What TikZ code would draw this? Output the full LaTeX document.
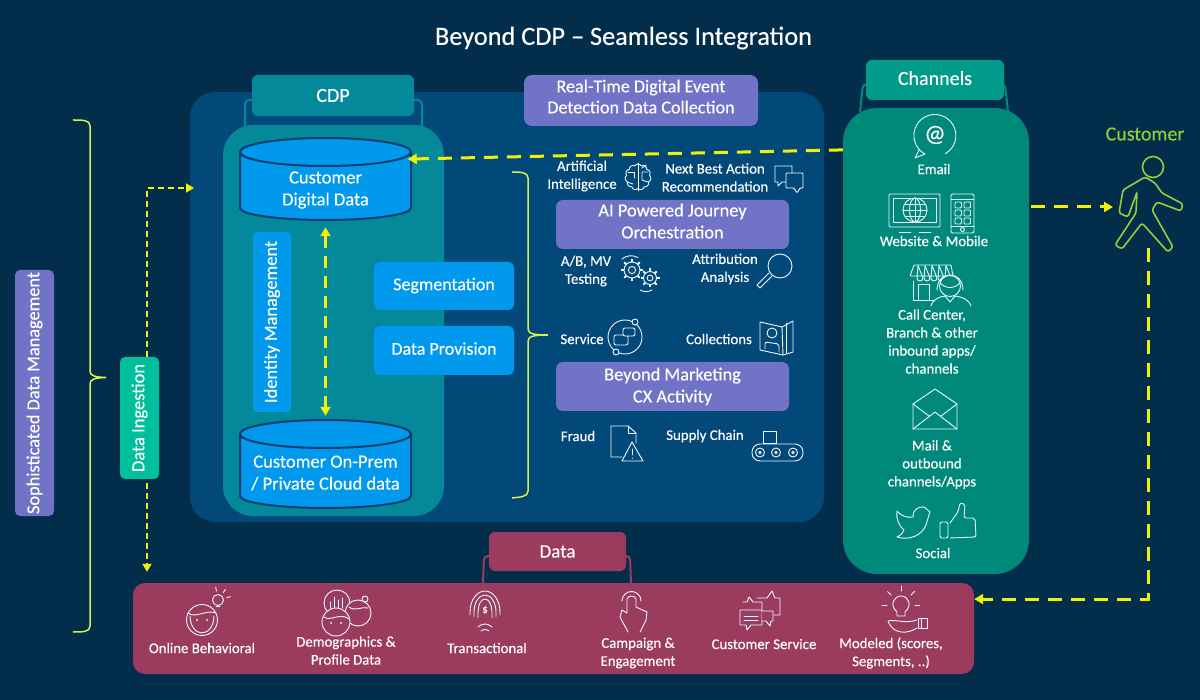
\documentclass[tikz,border=0pt]{standalone}
\usepackage{fontspec}
\setmainfont{Carlito}[FakeBold=0.25]
\usetikzlibrary{arrows.meta,shapes.symbols}

\definecolor{bgnavy}{RGB}{3,46,75}
\definecolor{panelblue}{RGB}{2,73,122}
\definecolor{cdpteal}{RGB}{3,137,154}
\definecolor{skyblue}{RGB}{0,153,238}
\definecolor{cylline}{RGB}{3,62,110}
\definecolor{lavender}{RGB}{113,116,198}
\definecolor{chanteal}{RGB}{0,137,123}
\definecolor{chantab}{RGB}{0,155,138}
\definecolor{ingestgreen}{RGB}{0,191,156}
\definecolor{maroon}{RGB}{155,60,94}
\definecolor{dashyellow}{RGB}{240,240,10}
\definecolor{bracegreen}{RGB}{215,240,80}
\definecolor{walkergreen}{RGB}{150,204,60}

\newcommand{\fs}[2]{\fontsize{#1}{#2}\selectfont}
% lifts the text of a box by half of the given depth
\newcommand{\lift}[1]{\rule[-#1]{0pt}{0pt}}

\tikzset{
    box/.style={rounded corners=6pt, align=center, text=white, inner sep=0pt},
    lbl/.style={align=center, text=white, inner sep=0pt, font=\fs{14.8}{18}},
    icon/.style={draw=white!92!cyan, line width=0.9pt, line join=round, line cap=round},
    flow/.style={draw=dashyellow, line width=3pt, dash pattern=on 14pt off 9pt, -{Triangle[length=9pt,width=10pt]}},
    thinflow/.style={draw=dashyellow, line width=1.6pt, dash pattern=on 6pt off 4pt, -{Triangle[length=8pt,width=9pt]}},
    brace/.style={draw=bracegreen, line width=1.5pt},
    handle/.style={line width=2pt, rounded corners=4pt},
}

% gear with teeth: x, y, radius
\newcommand{\gearicon}[3]{
    \draw[icon] (#1,#2) circle (#3);
    \draw[icon] (#1,#2) circle (#3*0.45);
    \foreach \a in {0,45,...,315}
        \draw[icon,line width=2pt,line cap=butt] ({#1+#3*cos(\a)},{#2+#3*sin(\a)}) -- ({#1+(#3+3)*cos(\a)},{#2+(#3+3)*sin(\a)});
}

% database drum: x, y of the top ellipse, y of the bottom side
\newcommand{\drum}[3]{
    \fill[skyblue] (#1-85.5,#2) -- (#1-85.5,#3) arc[start angle=180,end angle=0,x radius=85.5,y radius=12] -- (#1+85.5,#2) -- cycle;
    \draw[cylline,line width=2pt] (#1-85.5,#2) -- (#1-85.5,#3) arc[start angle=180,end angle=0,x radius=85.5,y radius=12] -- (#1+85.5,#2);
    \draw[cylline,line width=2pt,fill=skyblue] (#1,#2) ellipse (85.5 and 14);
}

\begin{document}
\begin{tikzpicture}[x=1pt,y=-1pt]
    \useasboundingbox (0,0) rectangle (1200,700);
    \fill[bgnavy] (0,0) rectangle (1200,700);

    \node[font=\fs{26.3}{30}, text=white, inner sep=0pt] (title) at (623.5,38) {Beyond CDP -- Seamless Integration};

    % big blue panel
    \node[fill=panelblue, rounded corners=25pt, minimum width=634pt, minimum height=430pt, inner sep=0pt] (panel) at (507,307) {};

    % CDP
    \draw[handle,draw=cdpteal] (245,126) -- (245,100) -- (254,100);
    \draw[handle,draw=cdpteal] (422,126) -- (422,100) -- (412,100);
    \node[box, fill=cdpteal, minimum width=162pt, minimum height=41pt, font=\fs{20}{22}] (cdptab) at (333,95.5) {CDP};
    \node[fill=cdpteal, rounded corners=30pt, minimum width=221pt, minimum height=391pt, inner sep=0pt] (cdp) at (333.5,320.5) {};

    \drum{325.5}{152}{208}
    \drum{325.5}{434}{496}
    \node[box, minimum width=170pt, minimum height=68pt, font=\fs{18.5}{22}] (digital) at (325.5,190) {Customer\\Digital Data};
    \node[box, minimum width=170pt, minimum height=70pt, font=\fs{18.5}{22}] (onprem) at (325.5,473) {Customer On-Prem\\/ Private Cloud data};

    \node[box, fill=skyblue, rounded corners=4pt, rotate=90, minimum width=180pt, minimum height=38pt, font=\fs{18.4}{20}] (identity) at (272,322) {Identity Management};
    \node[box, fill=skyblue, minimum width=140pt, minimum height=48pt, font=\fs{18}{20}] (segment) at (444,286) {Segmentation\lift{4pt}};
    \node[box, fill=skyblue, minimum width=140pt, minimum height=49pt, font=\fs{18}{20}] (provision) at (444,350.5) {Data Provision\lift{4pt}};

    \node[box, fill=lavender, rounded corners=8pt, minimum width=234pt, minimum height=51pt, font=\fs{18.1}{21}] (realtime) at (641,100.5) {Real-Time Digital Event\\Detection Data Collection\lift{8pt}};

    % left brace and the one inside the panel
    \draw[brace] (73,120) .. controls (83,120) and (90,120) .. (90,126) -- (90,371) .. controls (90,376) and (95,377) .. (106,377.5) .. controls (95,378) and (90,379) .. (90,384) -- (90,626) .. controls (90,632) and (83,632) .. (73,632);
    \draw[brace] (512,172) .. controls (520,172) and (528,172) .. (528,178) -- (528,329) .. controls (528,334) and (535,335) .. (548,335) .. controls (535,335) and (528,336) .. (528,341) -- (528,491) .. controls (528,497) and (520,497) .. (512,498);

    % journey block
    \node[lbl] (artificial) at (582,176) {Artificial\\Intelligence};
    \node[lbl] (nextbest) at (715,177.5) {Next Best Action\\Recommendation};
    \node[box, fill=lavender, rounded corners=7pt, minimum width=233pt, minimum height=49pt, font=\fs{18.4}{22}] (journey) at (672.5,224.5) {AI Powered Journey\\Orchestration\lift{7pt}};
    \node[lbl] (abtest) at (586,271) {A/B, MV\\Testing};
    \node[lbl] (attrib) at (725,269) {Attribution\\Analysis};

    \node[lbl] (service) at (582,339) {Service};
    \node[lbl] (collect) at (719,339) {Collections};
    \node[box, fill=lavender, rounded corners=7pt, minimum width=233pt, minimum height=49pt, font=\fs{18.4}{22}] (beyond) at (672.5,386.5) {Beyond Marketing\\CX Activity};
    \node[lbl] (fraud) at (578,436) {Fraud};
    \node[lbl] (supply) at (705,436) {Supply Chain};

    % brain
    \node[cloud, cloud puffs=11, cloud puff arc=120, aspect=1, icon, minimum width=26pt, minimum height=26pt, inner sep=0pt] (brain) at (638,177) {};
    \draw[icon] (638,163) -- (638,191);
    \draw[icon] (628,172) -- (634,172) -- (634,178);
    \draw[icon] (627,182) -- (633,184);
    \draw[icon] (648,172) -- (642,172) -- (642,180) -- (648,182);
    \draw[icon] (642,168) -- (646,165);

    % speech bubbles
    \draw[icon] (786,182) -- (782,182) -- (778,186) -- (778,182) -- (775,182) -- (775,166) -- (792,166) -- (792,173);
    \draw[icon,rounded corners=1pt] (786,173) -- (803,173) -- (803,188) -- (800,188) -- (797,193) -- (794,188) -- (786,188) -- cycle;

    % gears
    \gearicon{632}{270}{8}
    \gearicon{650}{278}{6.5}
    \draw[icon] (622,259) arc[start angle=230,end angle=300,radius=14];
    \draw[icon] (640,290) arc[start angle=120,end angle=60,radius=12];

    % magnifier
    \draw[icon] (780,266) circle (12);
    \draw[icon] (769,273) -- (757,285) -- (760,288) -- (772,276);

    % service loop
    \draw[icon] (625,337) circle (17);
    \draw[icon,fill=panelblue,rounded corners=2pt] (614,335) rectangle (628,345);
    \draw[icon,fill=panelblue,rounded corners=2pt] (623,328) rectangle (635,336);
    \draw[icon,fill=panelblue] (635,322) circle (3);
    \draw[icon,fill=panelblue] (616,352) circle (3);

    % booklet
    \draw[icon] (760,322) -- (782,327) -- (783,355) -- (760,350) -- cycle;
    \draw[icon] (782,327) -- (793,321) -- (793,352) -- (783,355);
    \draw[icon] (786,323) -- (786,353);
    \draw[icon] (772,333) circle (5);
    \draw[icon,rounded corners=2pt] (765,349) -- (765,342) -- (779,344) -- (779,352);

    % fraud document
    \draw[icon] (622,457) -- (611,457) -- (611,426) -- (628,426) -- (636,433) -- (636,443);
    \draw[icon] (628,426) -- (628,433) -- (636,433);
    \draw[icon] (632,442) -- (622,461) -- (643,461) -- cycle;
    \draw[icon] (632,449) -- (632,455);
    \draw[icon] (632,458) -- (632,458.5);

    % conveyor
    \draw[icon] (763,431) rectangle (776,443);
    \draw[icon,rounded corners=8pt] (752,444) rectangle (803,461);
    \foreach \x in {760,776,793} {
        \draw[icon] (\x,452.5) circle (4.5);
        \draw[icon] (\x,452.5) circle (1.2);
    }

    % channels
    \draw[handle,draw=chanteal] (860,112) -- (863,84) -- (870,84);
    \draw[handle,draw=chanteal] (1008,112) -- (1005,84) -- (998,84);
    \node[box, fill=chantab, minimum width=138pt, minimum height=40pt, font=\fs{20}{22}] (chantab) at (935,80) {Channels\lift{4pt}};
    \node[fill=chanteal, rounded corners=34pt, minimum width=186pt, minimum height=466pt, inner sep=0pt] (channels) at (936,341) {};

    \node[lbl] (email) at (934,169) {Email};
    \node[lbl] (website) at (934,241) {Website \& Mobile};
    \node[lbl] (callcenter) at (932,341.5) {Call Center,\\Branch \& other\\inbound apps/\\channels};
    \node[lbl] (mail) at (932,464.5) {Mail \&\\outbound\\channels/Apps};
    \node[lbl] (social) at (933,553) {Social};

    % email bubble
    \draw[icon] (925,154) arc[start angle=118,end angle=420,radius=21] (925,154) -- (915,158) -- (919,150);
    \node[font=\fs{24}{24}, text=white, inner sep=0pt] (atsign) at (935,135) {@};

    % monitor and phone
    \draw[icon,rounded corners=1pt] (889,194) rectangle (940,227);
    \draw[icon] (893,198) rectangle (936,222);
    \draw[icon] (915,210) circle (12);
    \draw[icon] (915,210) ellipse (5.5 and 12);
    \draw[icon] (903,210) -- (927,210) (905,204) -- (925,204) (905,216) -- (925,216) (915,198) -- (915,222);
    \draw[icon] (899,232) -- (911,232) (919,232) -- (931,232);
    \draw[icon,rounded corners=2pt] (951,194) rectangle (974,233);
    \draw[icon] (951,199) -- (974,199) (951,226) -- (974,226);
    \draw[icon] (962.5,229.5) circle (2);
    \foreach \y in {202,210,218}
        \foreach \x in {955,964}
            \draw[icon,rounded corners=1pt] (\x,\y) rectangle ++(6.5,6);

    % shop and agent
    \draw[icon,rounded corners=1pt] (914,265) -- (951,265) -- (953,276) -- (910,276) -- cycle;
    \foreach \x in {918,925,932,939,946}
        \draw[icon] (\x,265.5) -- (\x-1,278) arc[start angle=180,end angle=0,radius=3] -- cycle;
    \draw[icon] (913,281) -- (913,300) -- (934,300);
    \draw[icon] (918,284) rectangle (929,300);
    \draw[icon,fill=chanteal] (950,286) circle (10.5);
    \draw[icon] (937,290) .. controls (937,270) and (963,270) .. (963,290);
    \draw[icon] (940,283) .. controls (946,289) and (954,289) .. (960,283);
    \draw[icon] (931,306) .. controls (933,299) and (939,297) .. (945,296) (955,296) .. controls (963,297) and (969,300) .. (971,306);
    \draw[icon] (945,296) -- (950,302) -- (955,296);

    % envelope
    \draw[icon] (913,404) -- (935,389) -- (957,404) -- (957,429) -- (913,429) -- cycle;
    \draw[icon] (913,429) -- (935,412) -- (957,429);
    \draw[icon] (913,404) -- (929,416) (957,404) -- (941,416);

    % bird and thumb
    \draw[icon] (930,512) -- (924,507) .. controls (918,506) and (912,511) .. (913,517) .. controls (907,518) and (901,516) .. (897,511) .. controls (896,518) and (898,525) .. (904,530) .. controls (902,534) and (900,536) .. (897,537) .. controls (910,541) and (922,535) .. (926,525) -- (929,515) -- cycle;
    \draw[icon,rounded corners=2pt] (940,522) rectangle (948,538);
    \draw[icon,rounded corners=2pt] (950,523) -- (958,512) -- (960,503) -- (965,504) -- (964,518) -- (975,518) -- (976,537) -- (950,538);

    % customer
    \node[font=\fs{20}{22}, text=walkergreen, inner sep=0pt] (customer) at (1145,134) {Customer};
    \draw[draw=walkergreen,line width=1.6pt] (1153,167) circle (10.5);
    \draw[draw=walkergreen,line width=1.6pt,rounded corners=2.5pt] (1145,177) -- (1155,183) -- (1162,193) -- (1183,204) -- (1181,211) -- (1157,202) -- (1152,210) -- (1173,247) -- (1168,252) -- (1142,223) -- (1122,249) -- (1115,245) -- (1136,213) -- (1137,192) -- (1128,217) -- (1119,213) -- (1123,190) -- cycle;
    \coordinate (walkerin) at (1113,207);
    \coordinate (walkerout) at (1148,248);

    % data band
    \draw[handle,draw=maroon] (483,584) -- (484,556) -- (492,556);
    \draw[handle,draw=maroon] (631,584) -- (630,556) -- (622,556);
    \node[box, fill=maroon, minimum width=137pt, minimum height=39pt, font=\fs{19}{20}] (datatab) at (557.5,551.5) {Data};
    \node[fill=maroon, rounded corners=12pt, minimum width=841pt, minimum height=91pt, inner sep=0pt] (databand) at (553.5,628.5) {};

    \node[lbl] (online) at (202,648) {Online Behavioral};
    \node[lbl] (demog) at (346,650.5) {Demographics \&\\Profile Data};
    \node[lbl] (transact) at (487,648) {Transactional};
    \node[lbl] (campaign) at (638,653) {Campaign \&\\Engagement};
    \node[lbl] (custserv) at (764,644) {Customer Service};
    \node[lbl] (modeled) at (891,653) {Modeled (scores,\\Segments, ..)};

    % head with bulb
    \draw[icon] (202,620) circle (15.5);
    \draw[icon] (190,616) arc[start angle=180,end angle=0,x radius=12,y radius=17];
    \draw[icon] (188,613) .. controls (196,619) and (206,609) .. (216,613);
    \fill[white] (197,620) circle (1) (207,620) circle (1);
    \draw[icon,fill=maroon] (218,600) circle (5.5);
    \draw[icon] (216,606) -- (220,606);
    \foreach \a in {-100,-55,-15}
        \draw[icon] ({218+9*cos(\a)},{600+9*sin(\a)}) -- ({218+13*cos(\a)},{600+13*sin(\a)});

    % three heads
    \draw[icon] (337,603) circle (13);
    \foreach \x/\y in {330/602,334/597,338/600,342/598}
        \draw[icon] (\x,608) -- (\x,\y);
    \draw[icon,fill=maroon] (358,613) circle (13);
    \draw[icon] (349,607) .. controls (355,612) and (362,606) .. (368,608);
    \draw[icon,fill=maroon] (365,599) circle (3);
    \draw[icon,fill=maroon] (336,622) circle (14);
    \draw[icon] (324,617) .. controls (330,622) and (340,612) .. (349,619);
    \fill[white] (331,623) circle (1) (341,623) circle (1);

    % fingerprint
    \foreach \r in {15,11,7}
        \draw[icon] ({485-\r},620-\r/3) -- ({485-\r},612) arc[start angle=180,end angle=360,x radius=\r,y radius=\r+6] -- ({485+\r},620-\r/3);
    \draw[icon] (478,627) .. controls (482,623) and (488,623) .. (492,627) (481,631) .. controls (483,629) and (487,629) .. (489,631);
    \node[font=\fs{11}{11}, text=white, inner sep=0pt] (dollar) at (485,610) {\$};

    % touch finger
    \draw[icon] (628,632) -- (620,617) -- (622,610) -- (627,613) -- (627,599) .. controls (628,595) and (635,595) .. (636,599) -- (636,607) -- (647,612) -- (646,620) -- (640,632);
    \draw[icon] (622,601) arc[start angle=180,end angle=360,radius=9.5];

    % service chat
    \draw[icon] (757,598) -- (767,598) -- (772,591) -- (775,598) -- (780,598) -- (780,615) -- (773,615);
    \draw[icon] (743,602) -- (747,602) -- (749,597) -- (753,602) -- (762,602) -- (762,610);
    \draw[icon,fill=maroon] (740,610) -- (762,610) -- (762,625) -- (751,625) -- (747,630) -- (746,625) -- (740,625) -- cycle;
    \draw[icon,fill=maroon] (762,611) -- (773,611) -- (773,621) -- (771,621) -- (770,626) -- (766,621) -- (762,621);
    \draw[icon] (744,616) -- (758,616) (744,620) -- (758,620);

    % bulb on hand
    \draw[icon] (897,612) .. controls (889,605) and (894,596) .. (901,596) .. controls (908,596) and (913,605) .. (905,612) -- (905,616) -- (897,616) -- cycle;
    \foreach \a in {180,225,270,315,360}
        \draw[icon] ({901+14*cos(\a)},{605+14*sin(\a)}) -- ({901+19*cos(\a)},{605+19*sin(\a)});
    \draw[icon] (888,621) .. controls (895,619) and (905,624) .. (917,620) (888,621) .. controls (893,635) and (908,634) .. (917,628);
    \draw[icon] (918,618) rectangle (927,628);
    \draw[icon] (921,618) -- (921,628);

    % left boxes
    \node[box, fill=lavender, rotate=90, rounded corners=5pt, minimum width=246pt, minimum height=39pt, font=\fs{18.3}{20}] (sophist) at (34.5,393) {Sophisticated Data Management};
    \node[box, fill=ingestgreen, rotate=90, rounded corners=5pt, minimum width=122pt, minimum height=39pt, font=\fs{18.5}{20}] (ingest) at (139.5,418) {Data Ingestion};

    % connectors
    \coordinate (panelin) at (194,188);
    \draw[flow,shorten >=-3pt] (channels.116) -- (digital.20);
    \draw[flow,shorten <=2pt] (channels.east |- walkerin) -- (walkerin);
    \draw[flow] (walkerout) |- (databand.4);
    \draw[thinflow] (ingest.-7) |- (panelin);
    \draw[thinflow,shorten <=4pt,shorten >=11pt] (ingest.187) -- (ingest.187 |- databand.north);
    \draw[flow,{Triangle[length=9pt,width=10pt]}-{Triangle[length=9pt,width=10pt]},line width=2.5pt,shorten <=3pt,shorten >=22pt,dash pattern=on 12pt off 8pt] (digital.south) -- (onprem.north);
\end{tikzpicture}
\end{document}
